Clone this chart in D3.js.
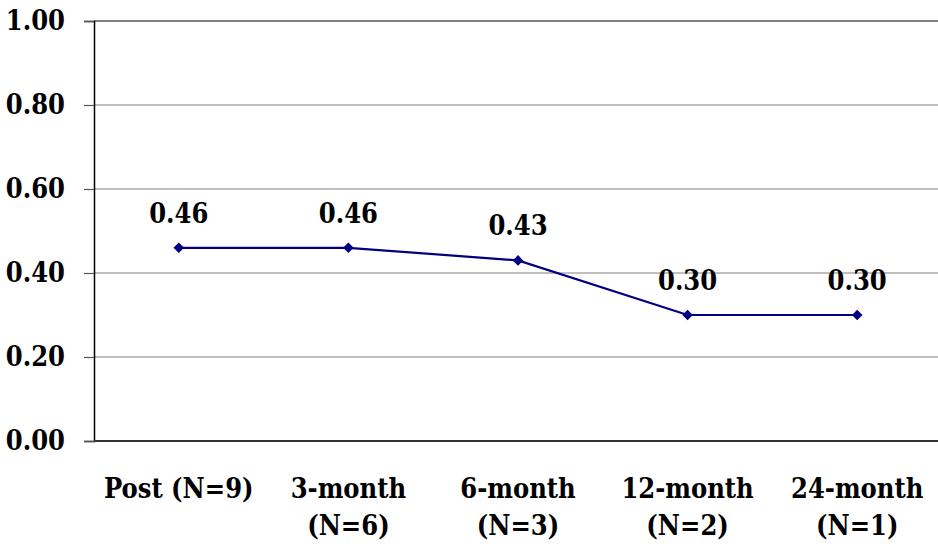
<!DOCTYPE html>
<html>
<head>
<meta charset="utf-8">
<script src="https://cdn.jsdelivr.net/npm/d3@7"></script>
<style>
  body { margin: 0; background: #fff; }
</style>
</head>
<body>
<div id="chart"></div>
<script>
// data
const categories = ["Post (N=9)", "3-month\n(N=6)", "6-month\n(N=3)", "12-month\n(N=2)", "24-month\n(N=1)"]
const values = [0.46, 0.46, 0.43, 0.30, 0.30]
const yTicks = [0, 0.2, 0.4, 0.6, 0.8, 1.0]

const fontFamily = "'DejaVu Serif Condensed', 'DejaVu Serif', serif"

// dimensions
const width = 938
const height = 546
const plot = { left: 94, right: 942, top: 21, bottom: 441 }

const svg = d3.select("#chart").append("svg")
    .attr("width", width)
    .attr("height", height)
    .attr("font-family", fontFamily)
    .attr("font-weight", "bold")

// scales
const x = d3.scalePoint()
    .domain(categories)
    .range([plot.left, plot.right])
    .padding(0.5)

const y = d3.scaleLinear()
    .domain([0, 1])
    .range([plot.bottom, plot.top])

// gridlines
svg.append("g")
  .selectAll("line")
  .data(yTicks.filter(d => d > 0))
  .join("line")
    .attr("x1", plot.left)
    .attr("x2", plot.right)
    .attr("y1", d => y(d))
    .attr("y2", d => y(d))
    .attr("stroke", "#808080")
    .attr("stroke-width", d => d === 1 ? 2 : 1.2)

// y axis
const yAxis = svg.append("g")
    .attr("transform", `translate(${plot.left},0)`)
    .call(d3.axisLeft(y).tickValues(yTicks).tickFormat(d3.format(".2f")).tickSize(10).tickPadding(19))
yAxis.attr("font-family", null)
yAxis.select(".domain").attr("stroke", "#000").attr("stroke-width", 1.5)
yAxis.selectAll(".tick line").attr("stroke", "#555").attr("stroke-width", 1.2)
yAxis.selectAll("text")
    .attr("font-size", 27)
    .attr("fill", "#000")

// x axis line
svg.append("line")
    .attr("x1", plot.left)
    .attr("x2", plot.right)
    .attr("y1", y(0))
    .attr("y2", y(0))
    .attr("stroke", "#333")
    .attr("stroke-width", 2)

// x labels
const xLabels = svg.append("g")
  .selectAll("text")
  .data(categories)
  .join("text")
    .attr("x", d => x(d))
    .attr("y", 498)
    .attr("text-anchor", "middle")
    .attr("font-size", 27)
xLabels.selectAll("tspan")
  .data(d => d.split("\n").map(t => ({ t, parent: d })))
  .join("tspan")
    .attr("x", d => x(d.parent))
    .attr("dy", (d, i) => i === 0 ? 0 : 37)
    .text(d => d.t)

// line
const line = d3.line()
    .x((d, i) => x(categories[i]))
    .y(d => y(d))

svg.append("path")
    .datum(values)
    .attr("fill", "none")
    .attr("stroke", "#000080")
    .attr("stroke-width", 2.2)
    .attr("d", line)

// markers: square turned 45 degrees
svg.append("g")
  .selectAll("path")
  .data(values)
  .join("path")
    .attr("transform", (d, i) => `translate(${x(categories[i])},${y(d)}) rotate(45)`)
    .attr("d", d3.symbol(d3.symbolSquare, 56))
    .attr("fill", "#000080")

// value labels
svg.append("g")
  .selectAll("text")
  .data(values)
  .join("text")
    .attr("x", (d, i) => x(categories[i]))
    .attr("y", d => y(d) - 25)
    .attr("text-anchor", "middle")
    .attr("font-size", 27)
    .text(d => d3.format(".2f")(d))
</script>
</body>
</html>
